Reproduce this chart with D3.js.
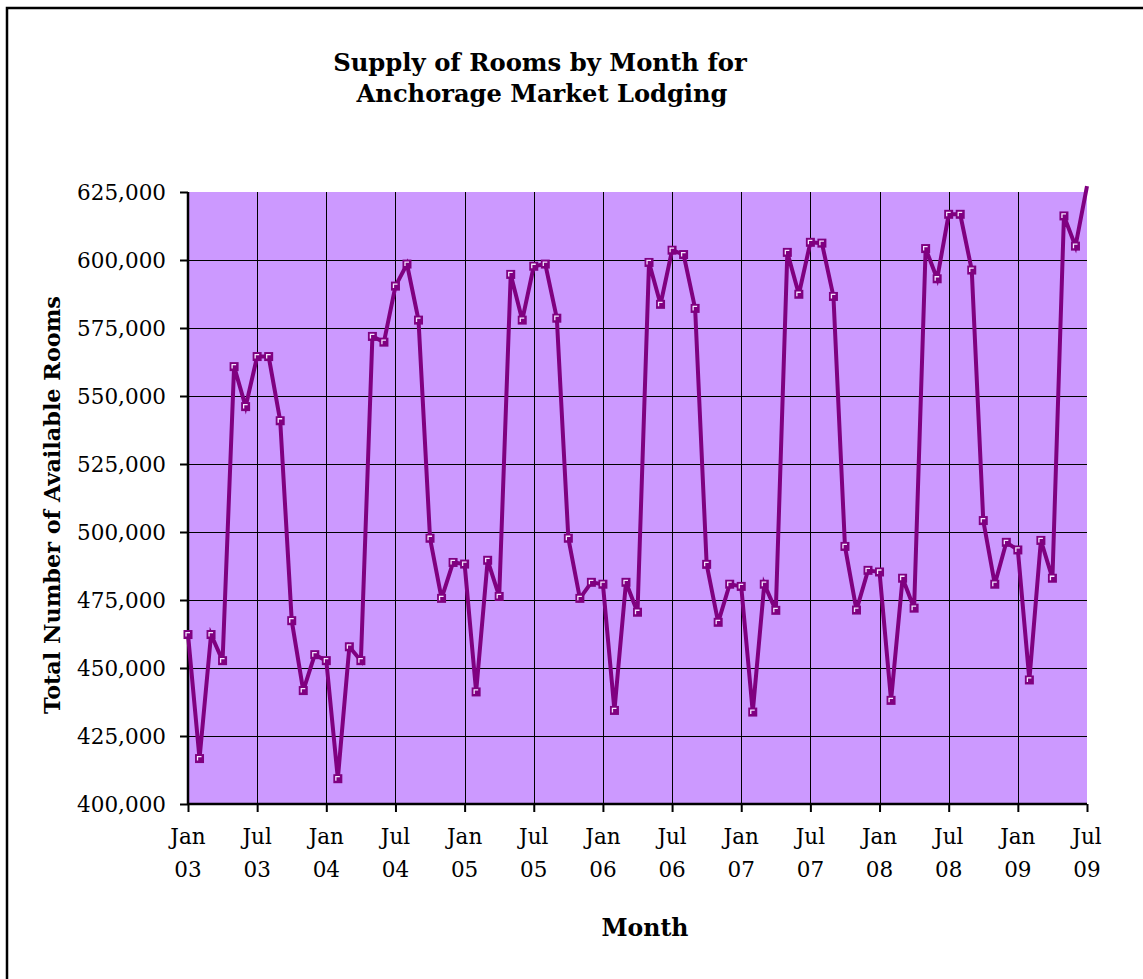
<!DOCTYPE html>
<html>
<head>
<meta charset="utf-8">
<script src="https://cdn.jsdelivr.net/npm/d3@7"></script>
<style>
  html, body { margin: 0; padding: 0; background: #fff; overflow: hidden; }
  svg { display: block; }
</style>
</head>
<body>
<svg id="chart" width="1143" height="979"></svg>
<script>
// ---- Data (Jan 2003 .. Jul 2009, monthly) ----
const rooms2003 = [462300, 416700, 462300, 452700, 560800, 546100, 564500, 564500, 540900, 467400, 441700, 454900];
const rooms2004 = [452700, 409300, 457800, 452700, 571900, 569800, 590400, 598500, 577900, 497700, 475600, 488800];
const rooms2005 = [488200, 441200, 489600, 476300, 594700, 577900, 597700, 598500, 578600, 497700, 475600, 481500];
const rooms2006 = [480800, 434400, 481500, 470500, 599100, 583700, 603600, 602000, 582200, 488100, 466800, 480800];
const rooms2007 = [480000, 433800, 480800, 471200, 602800, 587400, 606500, 606200, 586600, 494700, 471300, 485900];
const rooms2008 = [485300, 438100, 483000, 472000, 604200, 593100, 616800, 616800, 596300, 504200, 480800, 496200];
const rooms2009 = [493400, 445600, 496900, 483000, 616200, 605100, 627200];
const rooms = [].concat(rooms2003, rooms2004, rooms2005, rooms2006, rooms2007, rooms2008, rooms2009);

const tickMonthLabels = ["Jan","Jul","Jan","Jul","Jan","Jul","Jan","Jul","Jan","Jul","Jan","Jul","Jan","Jul"];
const tickYearLabels  = ["03","03","04","04","05","05","06","06","07","07","08","08","09","09"];
const tickMonthIdx    = [0, 6, 12, 18, 24, 30, 36, 42, 48, 54, 60, 66, 72, 78];
const yTickValues     = [400000, 425000, 450000, 475000, 500000, 525000, 550000, 575000, 600000, 625000];

const titleLines = ["Supply of Rooms by Month for", "Anchorage Market Lodging"];
const xTitle = "Month";
const yTitle = "Total Number of Available Rooms";

// ---- Layout ----
const svg = d3.select("#chart");
const L = 188, R = 1087, T = 192, B = 804;
const FONT = "'DejaVu Serif', 'Liberation Serif', serif";
const lineColor = "#800080";

const x = d3.scaleLinear().domain([0, rooms.length - 1]).range([L, R]);
const y = d3.scaleLinear().domain([400000, 625000]).range([B, T]);

function fit(sel, target) {
  const w = sel.node().getComputedTextLength();
  const fs = parseFloat(sel.attr("font-size"));
  const nf = fs * target / w;
  sel.attr("font-size", nf);
  return nf;
}
const px = v => Math.round(v) + 0.5;

// chart border (extends past the viewport on right/bottom)
svg.append("rect").attr("x", 7).attr("y", 8).attr("width", 1200).attr("height", 1050)
  .attr("fill", "#fff").attr("stroke", "#000").attr("stroke-width", 2.5);

// plot background
svg.append("rect").attr("x", L).attr("y", T).attr("width", R - L).attr("height", B - T)
  .attr("fill", "#CC99FF");

// gridlines
const grid = svg.append("g").attr("stroke", "#000").attr("stroke-width", 1);
yTickValues.filter(v => v > 400000 && v < 625000).forEach(v => {
  grid.append("line").attr("x1", L).attr("x2", R).attr("y1", px(y(v))).attr("y2", px(y(v)));
});
tickMonthIdx.filter(i => i > 0 && i < rooms.length - 1).forEach(i => {
  grid.append("line").attr("x1", px(x(i))).attr("x2", px(x(i))).attr("y1", T).attr("y2", B);
});

// axes
const yAxis = d3.axisLeft(y).tickValues(yTickValues).tickSize(8).tickFormat(() => "");
const gy = svg.append("g").attr("transform", `translate(${L},0)`).call(yAxis);
gy.select(".domain").attr("stroke-width", 2.5).attr("d", `M0,${T}V${B}`);
gy.selectAll(".tick line").attr("stroke-width", 2);

const xAxis = d3.axisBottom(x).tickValues(tickMonthIdx).tickSize(8).tickFormat(() => "");
const gx = svg.append("g").attr("transform", `translate(0,${B})`).call(xAxis);
gx.select(".domain").attr("stroke-width", 2.5).attr("d", `M${L},0H${R}`);
gx.selectAll(".tick line").attr("stroke-width", 2);

// y tick labels
const fmt = d3.format(",");
const probe = svg.append("text").attr("font-family", FONT).attr("font-size", 20).text("625,000");
const tickFs = fit(probe, 89);
probe.remove();
svg.append("g").selectAll("text").data(yTickValues).join("text")
  .attr("x", 166).attr("y", d => y(d) + 8)
  .attr("text-anchor", "end").attr("font-family", FONT).attr("font-size", tickFs)
  .attr("fill", "#000").text(d => fmt(d));

// x tick labels
const xl = svg.append("g");
tickMonthIdx.forEach((idx, k) => {
  xl.append("text").attr("x", x(idx)).attr("y", 844).attr("text-anchor", "middle")
    .attr("font-family", FONT).attr("font-size", tickFs).text(tickMonthLabels[k]);
  xl.append("text").attr("x", x(idx)).attr("y", 877).attr("text-anchor", "middle")
    .attr("font-family", FONT).attr("font-size", tickFs).text(tickYearLabels[k]);
});

// series line
const line = d3.line().x((d, i) => x(i)).y(d => y(d));
svg.append("path").datum(rooms).attr("d", line)
  .attr("fill", "none").attr("stroke", lineColor).attr("stroke-width", 4)
  .attr("stroke-linejoin", "miter");

// markers
const mk = svg.append("g");
rooms.forEach((v, i) => {
  if (v > 625000) return;
  const cx = x(i), cy = y(v);
  mk.append("rect").attr("x", cx - 4.5).attr("y", cy - 4.5).attr("width", 9).attr("height", 9)
    .attr("fill", lineColor);
  mk.append("path").attr("d", `M${cx - 2},${cy + 2}V${cy - 2}H${cx + 2}`)
    .attr("fill", "none").attr("stroke", "#f4e6ff").attr("stroke-width", 1.3);
});

// title
const t1 = svg.append("text").attr("x", 540).attr("y", 71).attr("text-anchor", "middle")
  .attr("font-family", FONT).attr("font-weight", "bold").attr("font-size", 22).text(titleLines[0]);
fit(t1, 414);
const t2 = svg.append("text").attr("x", 542).attr("y", 102).attr("text-anchor", "middle")
  .attr("font-family", FONT).attr("font-weight", "bold").attr("font-size", 22).text(titleLines[1]);
fit(t2, 371);

// axis titles
const xt = svg.append("text").attr("x", 645).attr("y", 936).attr("text-anchor", "middle")
  .attr("font-family", FONT).attr("font-weight", "bold").attr("font-size", 20).text(xTitle);
fit(xt, 87);
const yt = svg.append("text").attr("transform", "translate(60,505) rotate(-90)").attr("text-anchor", "middle")
  .attr("font-family", FONT).attr("font-weight", "bold").attr("font-size", 20).text(yTitle);
fit(yt, 418);
</script>
</body>
</html>
